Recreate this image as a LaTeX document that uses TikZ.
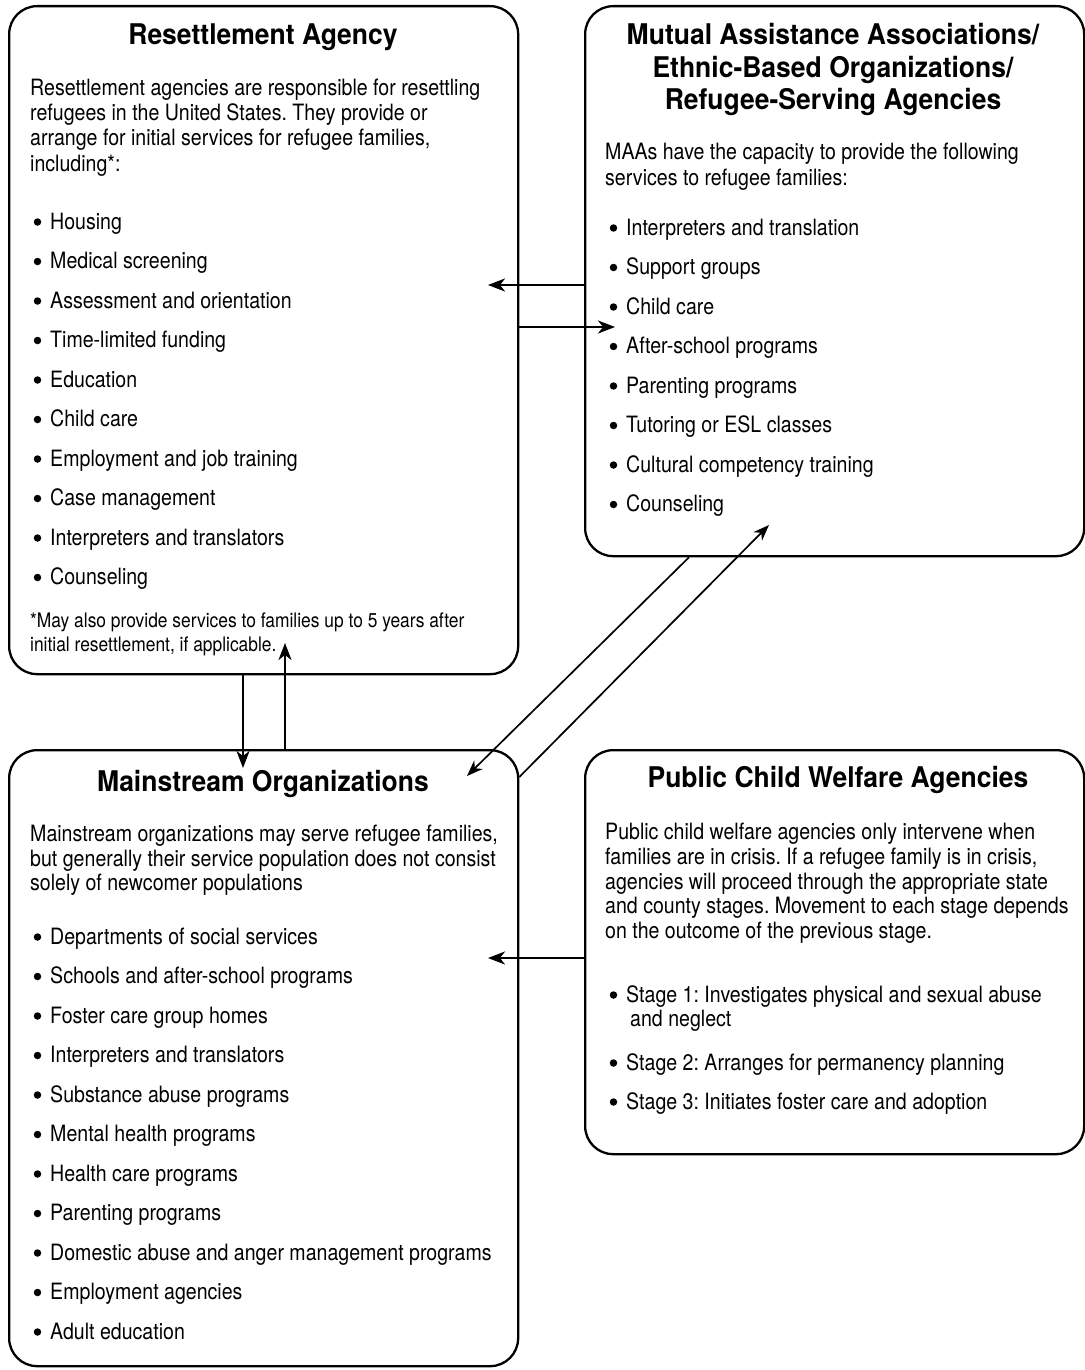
\documentclass[tikz,border=0pt]{standalone}
\usepackage{fontspec}
\setmainfont[FakeStretch=0.87]{TeX Gyre Heros}
\newfontfamily\ttlfont[FakeStretch=0.93]{TeX Gyre Heros}
\usetikzlibrary{arrows.meta}
\tikzset{
 box/.style={draw, line width=2.3pt, rounded corners=28pt, anchor=north west, inner sep=0pt},
 body/.style={anchor=base west, inner sep=0pt, font=\fontsize{22.5}{25}\selectfont},
 ttl/.style={anchor=base, inner sep=0pt, font=\ttlfont\fontsize{28.5}{32}\selectfont\bfseries},
 note/.style={anchor=base west, inner sep=0pt, font=\fontsize{20}{24}\selectfont},
 dot/.style={circle, fill, inner sep=0pt, minimum size=7.5pt},
 arr/.style={line width=2.3pt, -{Stealth[length=17pt,width=13pt,inset=5pt]}},
 darr/.style={line width=1.7pt, -{Stealth[length=16pt,width=12pt,inset=5pt]}},
}
\begin{document}
\frenchspacing
\begin{tikzpicture}[x=1pt,y=-1pt]
\useasboundingbox (0,0) rectangle (1084,1370);
% boxes
\node[box, minimum width=509pt, minimum height=668pt] (A) at (8,5) {};
\node[box, minimum width=499pt, minimum height=550pt] (B) at (584,5) {};
\node[box, minimum width=509pt, minimum height=616pt] (C) at (8,749) {};
\node[box, minimum width=499pt, minimum height=404pt] (D) at (584,749) {};

% Box A text
\node[ttl] (At) at (263,45) {Resettlement Agency};
\node[body] (Ap1) at (30,96) {Resettlement agencies are responsible for resettling};
\node[body] (Ap2) at (30,121) {refugees in the United States. They provide or};
\node[body] (Ap3) at (30,146) {arrange for initial services for refugee families,};
\node[body] (Ap4) at (30,171) {including*:};
\foreach \t [count=\i] in {Housing, Medical screening, Assessment and orientation, Time-limited funding, Education, Child care, Employment and job training, Case management, Interpreters and translators, Counseling}{
  \pgfmathsetmacro\yy{229+39.5*(\i-1)}
  \node[dot] (Ab\i) at (37.5,\yy-7) {};
  \node[body] (Ai\i) at (50,\yy) {\t};
}
\node[note] (An1) at (30,627) {*May also provide services to families up to 5 years after};
\node[note] (An2) at (30,651) {initial resettlement, if applicable.};

% Box B text
\node[ttl] (Bt1) at (833,45) {Mutual Assistance Associations/};
\node[ttl] (Bt2) at (833,78) {Ethnic-Based Organizations/};
\node[ttl] (Bt3) at (833,110) {Refugee-Serving Agencies};
\node[body] (Bp1) at (605,160) {MAAs have the capacity to provide the following};
\node[body] (Bp2) at (605,185) {services to refugee families:};
\foreach \t [count=\i] in {Interpreters and translation, Support groups, Child care, After-school programs, Parenting programs, Tutoring or ESL classes, Cultural competency training, Counseling}{
  \pgfmathsetmacro\yy{235+39.5*(\i-1)}
  \node[dot] (Bb\i) at (613.5,\yy-7) {};
  \node[body] (Bi\i) at (626,\yy) {\t};
}

% Box C text
\node[ttl] (Ct) at (263,791) {Mainstream Organizations};
\node[body] (Cp1) at (30,841) {Mainstream organizations may serve refugee families,};
\node[body] (Cp2) at (30,866) {but generally their service population does not consist};
\node[body] (Cp3) at (30,890) {solely of newcomer populations};
\foreach \t [count=\i] in {Departments of social services, Schools and after-school programs, Foster care group homes, Interpreters and translators, Substance abuse programs, Mental health programs, Health care programs, Parenting programs, Domestic abuse and anger management programs, Employment agencies, Adult education}{
  \pgfmathsetmacro\yy{944+39.5*(\i-1)}
  \node[dot] (Cb\i) at (37.5,\yy-7) {};
  \node[body] (Ci\i) at (50,\yy) {\t};
}

% Box D text
\node[ttl] (Dt) at (838,787) {Public Child Welfare Agencies};
\node[body] (Dp1) at (605,839) {Public child welfare agencies only intervene when};
\node[body] (Dp2) at (605,864) {families are in crisis. If a refugee family is in crisis,};
\node[body] (Dp3) at (605,889) {agencies will proceed through the appropriate state};
\node[body] (Dp4) at (605,913) {and county stages. Movement to each stage depends};
\node[body] (Dp5) at (605,938) {on the outcome of the previous stage.};
\node[dot] (Db1) at (613.5,995) {};
\node[body] (Di1) at (626,1002) {Stage 1: Investigates physical and sexual abuse};
\node[body] (Di1b) at (630,1026) {and neglect};
\node[dot] (Db2) at (613.5,1063) {};
\node[body] (Di2) at (626,1070) {Stage 2: Arranges for permanency planning};
\node[dot] (Db3) at (613.5,1102) {};
\node[body] (Di3) at (626,1109) {Stage 3: Initiates foster care and adoption};

% connectors
\coordinate (t1) at (488,285);
\coordinate (t2) at (615,327);
\coordinate (t3) at (243,768);
\coordinate (t4) at (285,643);
\coordinate (t5) at (467,776);
\coordinate (t6) at (769,525);
\coordinate (t7) at (488,958);
\draw[arr] (B.west |- t1) -- (t1);
\draw[arr] (A.east |- t2) -- (t2);
\draw[arr] (A.south -| t3) -- (t3);
\draw[arr] (C.north -| t4) -- (t4);
\draw[darr] (B.south -| 689,0) -- (t5);
\draw[darr] (C.east |- 0,777) -- (t6);
\draw[arr] (D.west |- t7) -- (t7);
\end{tikzpicture}
\end{document}
